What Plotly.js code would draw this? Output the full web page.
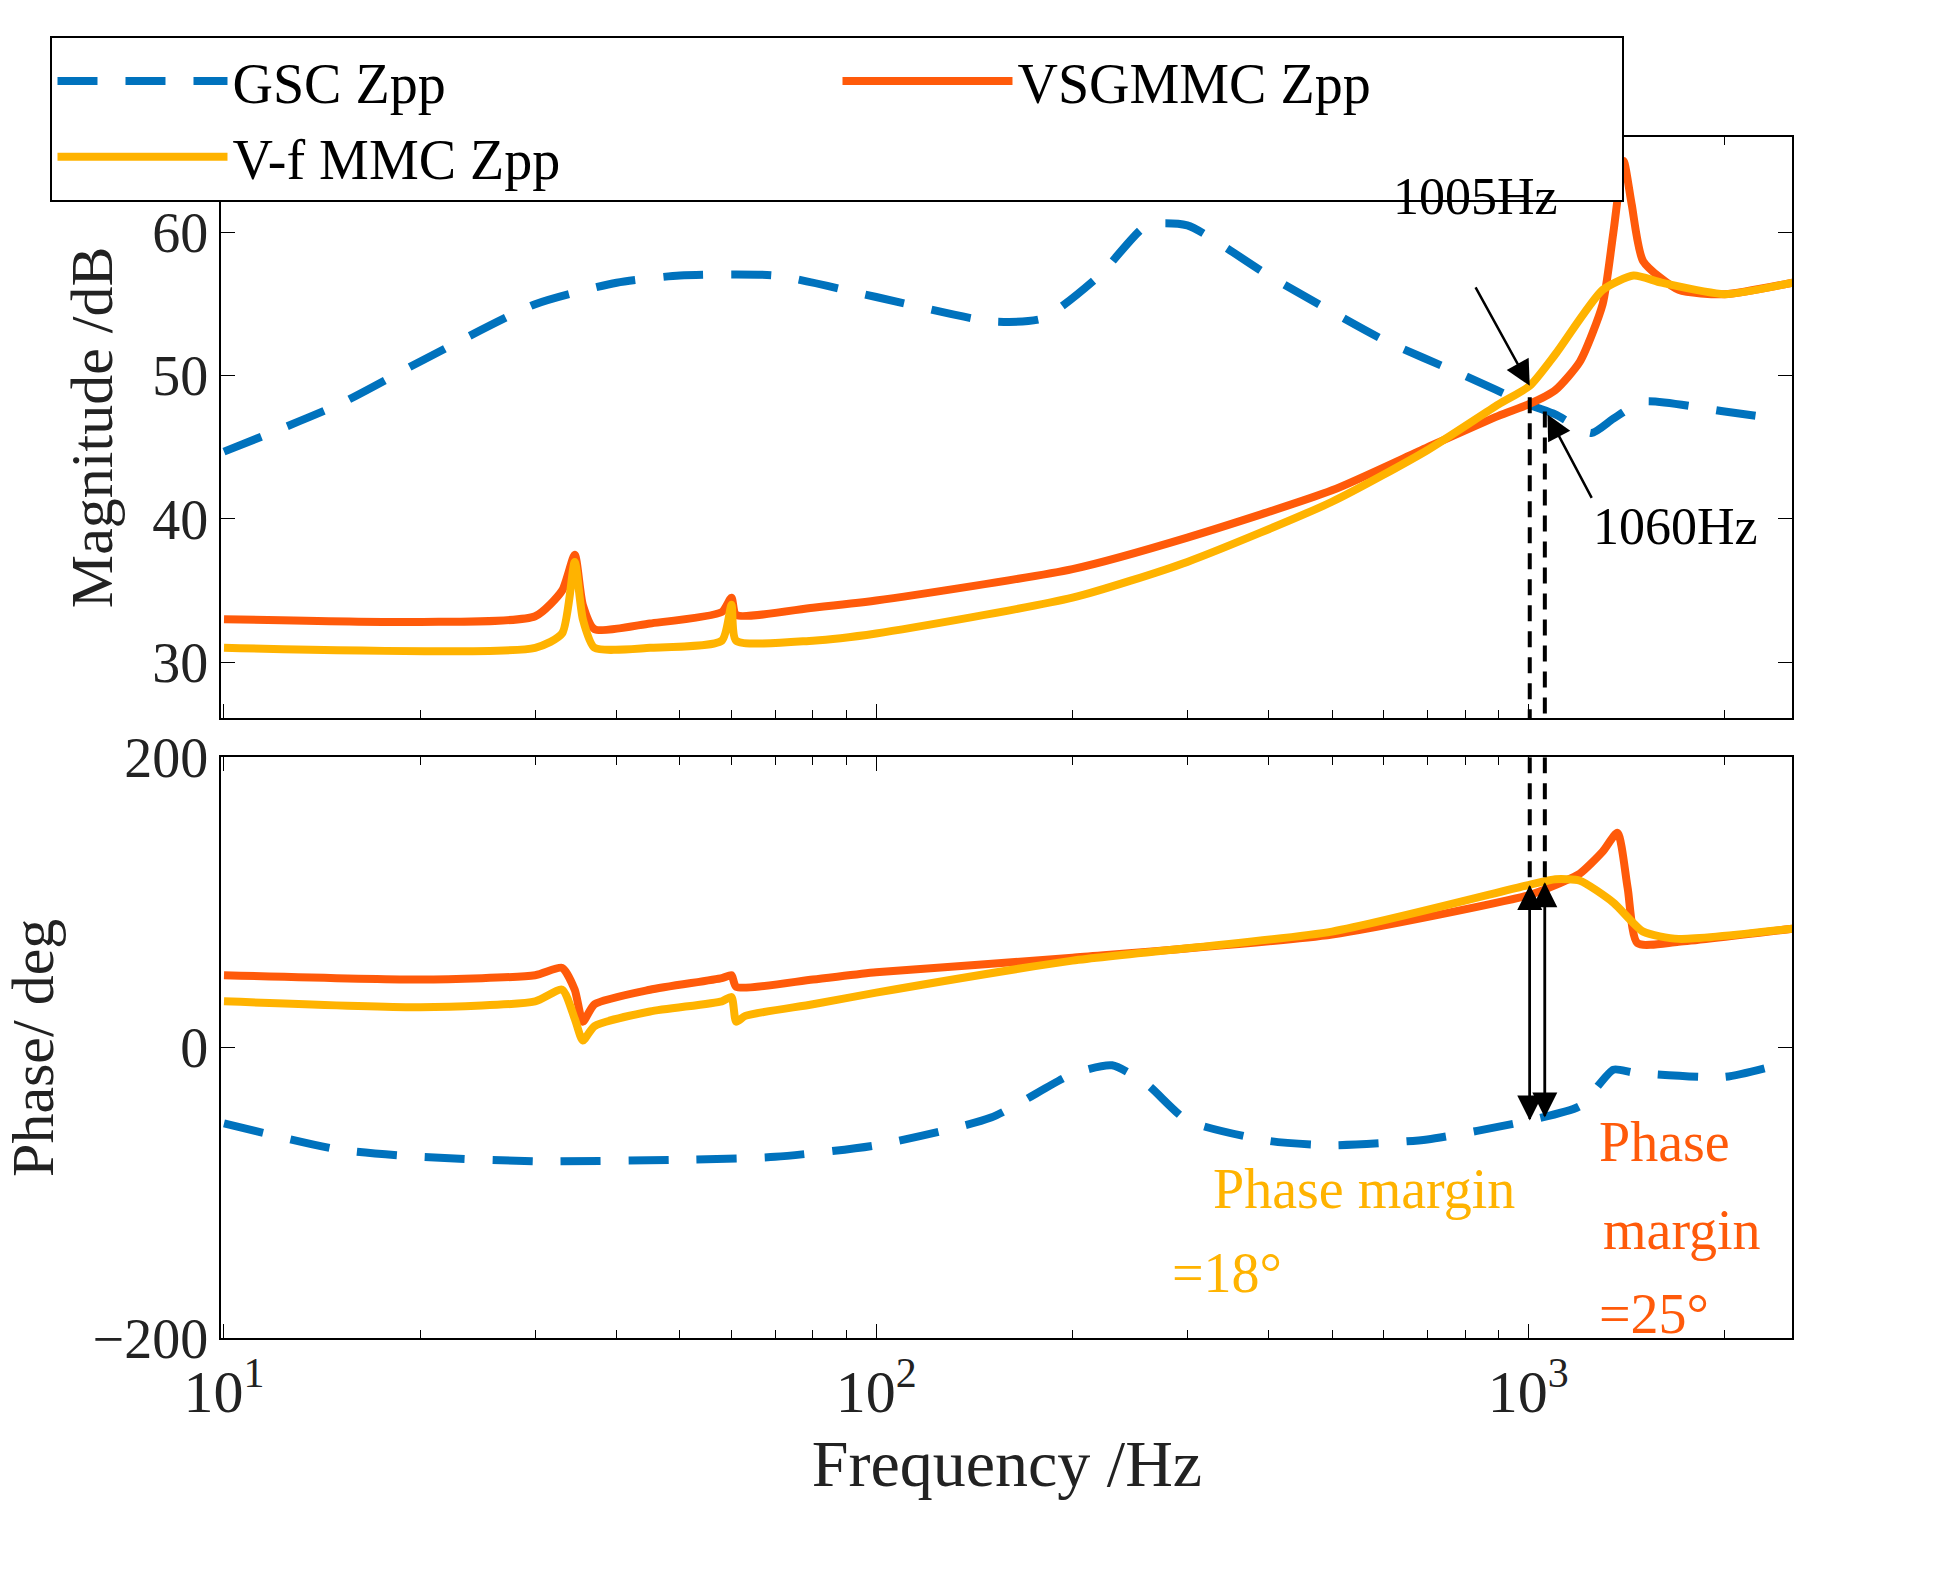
<!DOCTYPE html>
<html><head><meta charset="utf-8">
<script src="https://cdn.plot.ly/plotly-3.0.1.min.js"></script>
<style>body{margin:0}</style></head>
<body><div id="graph" style="width:1942px;height:1571px"></div>
<script>
// magnitude (dB)
let fGscMag = [10, 15, 20, 30, 40, 50, 70, 100, 150, 180, 220, 260, 300, 400, 600, 800, 1000, 1100, 1250, 1350, 1500, 2000, 2400];
let gscMag = [44.7, 48, 51, 55, 56.5, 57, 57, 55.5, 53.8, 54, 57, 60.5, 60.5, 57, 52.5, 50, 48, 47.3, 46, 47, 48.2, 47.5, 47];
let fVsgMag = [10, 20, 30, 33, 34.5, 35.5, 37, 45, 58, 60, 61, 80, 100, 200, 300, 500, 700, 900, 1000, 1100, 1200, 1300, 1350, 1400, 1440, 1500, 1700, 2000, 2540];
let vsgMag = [33, 32.8, 33.2, 35, 37.5, 34, 32.3, 32.7, 33.5, 34.5, 33.3, 33.8, 34.3, 36.5, 38.7, 42, 45, 47.2, 48, 49, 51, 55, 60, 65, 62, 58, 56, 55.7, 56.5];
let fVfMag = [10, 30, 33, 34.5, 35.5, 37, 45, 58, 60, 61, 80, 100, 200, 300, 500, 700, 900, 1005, 1100, 1300, 1450, 1600, 2000, 2540];
let vfMag = [31, 31, 32, 37, 33, 31, 31, 31.5, 34, 31.5, 31.5, 32, 34.5, 37, 41.2, 44.8, 48, 49.3, 51.5, 56, 57, 56.5, 55.7, 56.5];
// phase (deg)
let fGscPh = [10, 15, 20, 30, 50, 70, 100, 150, 200, 230, 260, 300, 400, 500, 700, 1000, 1200, 1350, 1450, 2000, 2400];
let gscPh = [-52, -70, -75, -78, -77, -75, -67, -48, -18, -12, -25, -50, -64, -67, -63, -50, -40, -15, -17, -20, -12];
let fVsgPh = [10, 20, 30, 33, 34.5, 35.5, 37, 45, 58, 60, 61, 80, 100, 200, 500, 1000, 1100, 1200, 1300, 1370, 1420, 1470, 1700, 2540];
let vsgPh = [50, 47, 50, 55, 40, 18, 30, 40, 48, 50, 42, 47, 52, 62, 78, 105, 112, 120, 135, 148, 110, 72, 73, 82];
let fVfPh = [10, 20, 30, 33, 34.5, 35.5, 37, 45, 58, 60, 61, 63, 80, 100, 200, 500, 1000, 1100, 1200, 1350, 1500, 1700, 2540];
let vfPh = [32, 28, 32, 40, 20, 5, 15, 25, 32, 35, 18, 22, 30, 38, 60, 80, 112, 116, 115, 100, 80, 75, 82];
// crossover markers
let fCross = [1005, 1060];
let phCrossTop = [112, 114];
let phCrossBot = [-50, -48];

const blue = "#0072BD", orange = "#FF5A0A", yellow = "#FFB300";
const serif = "Liberation Serif, DejaVu Serif, serif";

function line(x, y, name, color, xa, ya, dash, show) {
    return {x: x, y: y, name: name, xaxis: xa, yaxis: ya, type: "scatter", mode: "lines",
        showlegend: show, line: {color: color, width: 8, dash: dash || "solid", shape: "spline", smoothing: 0.6}};
}
const longDash = "40px,28px";

let data = [
    line(fGscMag, gscMag, "GSC Zpp", blue, "x", "y", longDash, true),
    line(fVsgMag, vsgMag, "VSGMMC Zpp", orange, "x", "y", "solid", true),
    line(fVfMag, vfMag, "V-f MMC Zpp", yellow, "x", "y", "solid", true),
    line(fGscPh, gscPh, "GSC Zpp", blue, "x2", "y2", longDash, false),
    line(fVsgPh, vsgPh, "VSGMMC Zpp", orange, "x2", "y2", "solid", false),
    line(fVfPh, vfPh, "V-f MMC Zpp", yellow, "x2", "y2", "solid", false)
];
for (let i = 0; i < fCross.length; i++) {
    data.push({x: [fCross[i], fCross[i]], y: [i ? 47.5 : 48.5, 26], xaxis: "x", yaxis: "y", mode: "lines",
        showlegend: false, line: {color: "black", width: 4, dash: "16px,10px"}});
    data.push({x: [fCross[i], fCross[i]], y: [200, phCrossTop[i]], xaxis: "x2", yaxis: "y2", mode: "lines",
        showlegend: false, line: {color: "black", width: 4, dash: "16px,10px"}});
}

let annotations = [
    {x: Math.log10(1005), y: 49.3, xref: "x", yref: "y", ax: -55, ay: -100, text: "", showarrow: true,
        arrowhead: 2, arrowsize: 2, arrowwidth: 2.5, arrowcolor: "black"},
    {x: Math.log10(830), y: 62.5, xref: "x", yref: "y", text: "1005Hz", showarrow: false, font: {size: 52, color: "black"}},
    {x: Math.log10(1070), y: 47.3, xref: "x", yref: "y", ax: 45, ay: 85, text: "", showarrow: true,
        arrowhead: 2, arrowsize: 2, arrowwidth: 2.5, arrowcolor: "black"},
    {x: Math.log10(1680), y: 39.5, xref: "x", yref: "y", text: "1060Hz", showarrow: false, font: {size: 52, color: "black"}},
    {x: Math.log10(560), y: -97, xref: "x2", yref: "y2", text: "Phase margin", showarrow: false, font: {size: 56, color: yellow}},
    {x: Math.log10(345), y: -155, xref: "x2", yref: "y2", text: "=18°", showarrow: false, font: {size: 56, color: yellow}},
    {x: Math.log10(1620), y: -65, xref: "x2", yref: "y2", text: "Phase", showarrow: false, font: {size: 56, color: orange}},
    {x: Math.log10(1720), y: -125, xref: "x2", yref: "y2", text: "margin", showarrow: false, font: {size: 56, color: orange}},
    {x: Math.log10(1560), y: -183, xref: "x2", yref: "y2", text: "=25°", showarrow: false, font: {size: 56, color: orange}}
];
for (let i = 0; i < fCross.length; i++) {
    let base = {x: Math.log10(fCross[i]), xref: "x2", yref: "y2", axref: "x2", ayref: "y2",
        ax: Math.log10(fCross[i]), text: "", showarrow: true, arrowhead: 2, arrowsize: 2, arrowwidth: 2.5, arrowcolor: "black"};
    annotations.push(Object.assign({}, base, {y: phCrossTop[i], ay: phCrossBot[i]}));
    annotations.push(Object.assign({}, base, {y: phCrossBot[i], ay: phCrossTop[i]}));
}

let xaxisBase = {type: "log", range: [0.996, 3.405], domain: [0.114, 0.923], showgrid: false, zeroline: false,
    showline: true, linecolor: "black", linewidth: 2, mirror: "ticks", ticks: "inside", ticklen: 14, tickcolor: "black",
    tickvals: [10, 100, 1000], minor: {ticks: "inside", ticklen: 8, tickcolor: "black", dtick: "D1", showgrid: false}};

let layout = {
    width: 1942, height: 1571,
    margin: {l: 0, r: 0, t: 0, b: 0},
    paper_bgcolor: "white", plot_bgcolor: "white",
    font: {family: serif, size: 52, color: "#222"},
    showlegend: true,
    legend: {orientation: "h", x: 0.026, y: 0.977, xanchor: "left", yanchor: "top", bordercolor: "black", borderwidth: 2,
        font: {size: 56, color: "black"}, itemwidth: 170, entrywidth: 600, entrywidthmode: "pixels", tracegroupgap: 0},
    xaxis: Object.assign({}, xaxisBase, {anchor: "y", showticklabels: false}),
    yaxis: {domain: [0.543, 0.913], range: [26.1, 66.7], tickvals: [30, 40, 50, 60], showgrid: false, zeroline: false,
        showline: true, linecolor: "black", linewidth: 2, mirror: "ticks", ticks: "inside", ticklen: 14, tickcolor: "black",
        tickfont: {size: 56}, title: {text: "Magnitude /dB", font: {size: 60}, standoff: 20}},
    xaxis2: Object.assign({}, xaxisBase, {anchor: "y2", ticktext: ["10<sup>1</sup>", "10<sup>2</sup>", "10<sup>3</sup>"],
        tickfont: {size: 60}, title: {text: "Frequency /Hz", font: {size: 66}, standoff: 15}}),
    yaxis2: {domain: [0.148, 0.518], range: [-200, 200], tickvals: [-200, 0, 200], ticktext: ["\u2212200", "0", "200"],
        showgrid: false, zeroline: false, showline: true, linecolor: "black", linewidth: 2, mirror: "ticks", ticks: "inside",
        ticklen: 14, tickcolor: "black", tickfont: {size: 56}, title: {text: "Phase/ deg", font: {size: 60}, standoff: 60}},
    annotations: annotations
};

Plotly.newPlot("graph", data, layout, {displayModeBar: false});
</script>
</body></html>
